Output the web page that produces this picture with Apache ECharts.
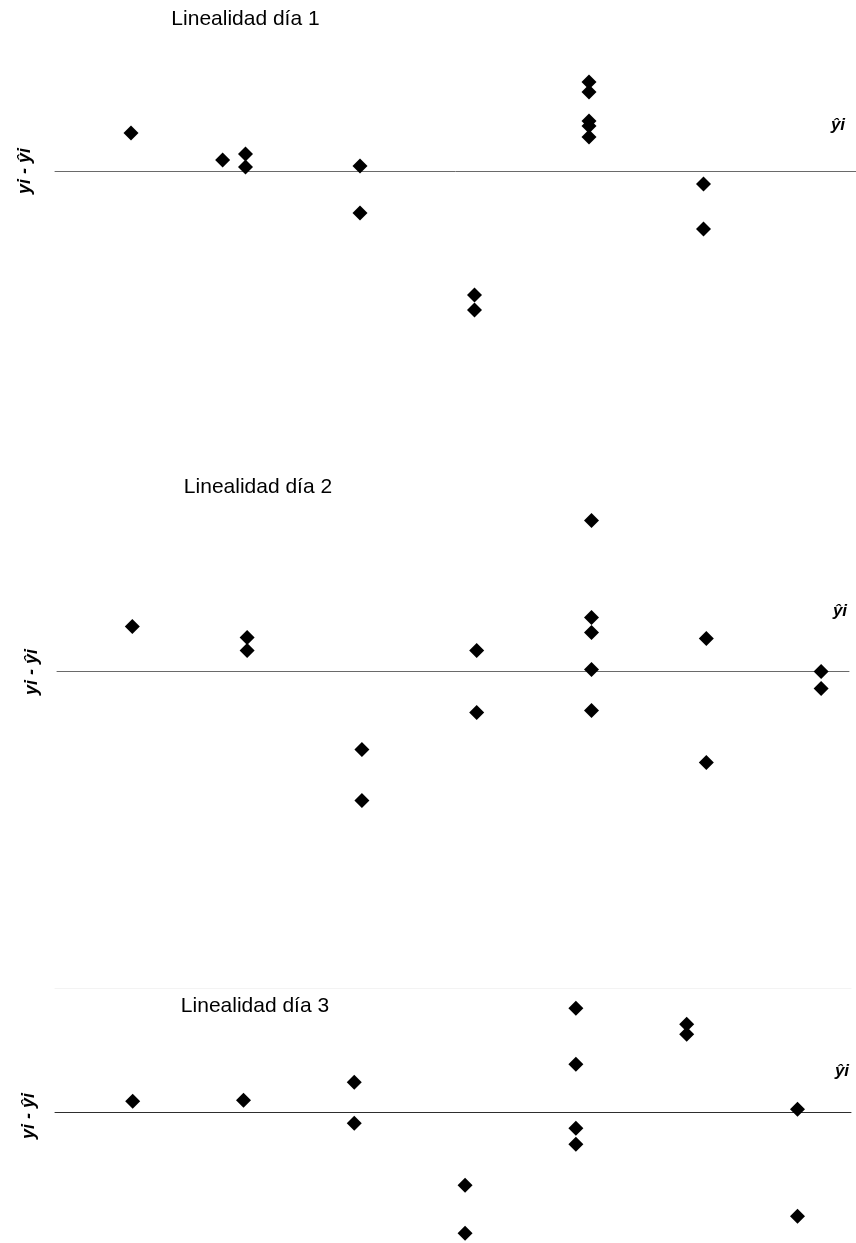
<!DOCTYPE html>
<html>
<head>
<meta charset="utf-8">
<script src="https://cdn.jsdelivr.net/npm/echarts@6/dist/echarts.min.js"></script>
<style>
html,body{margin:0;padding:0;background:#fff;}
#chart{width:856px;height:1243px;}
</style>
</head>
<body>
<div id="chart"></div>
<script>
// Data: x = concentration level, y = residual (yi - ŷi), arbitrary units
const titles = ['Linealidad día 1', 'Linealidad día 2', 'Linealidad día 3'];
const yLabel = 'yi - ŷi';
const xLabel = 'ŷi';

const levels1 = [1, 1.8, 2, 2, 3, 3, 4, 4, 5, 5, 5, 5, 5, 6, 6];
const resid1  = [3.8, 1.1, 1.7, 0.4, 0.5, -4.2, -12.4, -13.9, 8.9, 7.9, 5.0, 4.5, 3.4, -1.3, -5.8];

const levels2 = [1, 2, 2, 3, 3, 4, 4, 5, 5, 5, 5, 5, 6, 6, 7, 7];
const resid2  = [4.5, 3.4, 2.1, -7.8, -12.9, 2.1, -4.1, 15.1, 5.4, 3.9, 0.2, -3.9, 3.3, -9.1, 0.0, -1.7];

const levels3 = [1, 2, 3, 3, 4, 4, 5, 5, 5, 5, 6, 6, 7, 7];
const resid3  = [1.1, 1.2, 3.0, -1.1, -7.3, -12.1, 10.4, 4.8, -1.6, -3.2, 8.8, 7.8, 0.3, -10.4];

const chart = echarts.init(document.getElementById('chart'), null, {renderer: 'canvas'});

const panels = [
  {levels: levels1, resid: resid1, grid: {left: 55, right: 0, top: 40, height: 310},
   xMin: 0.336, xMax: 7.332, yMin: -17.9, yMax: 13.1, lineColor: '#6a6a6a',
   title: [245.5, 19], ylab: [25, 171], xlab: [838, 125]},
  {levels: levels2, resid: resid2, grid: {left: 57, right: 7, top: 500, height: 320},
   xMin: 0.344, xMax: 7.243, yMin: -14.85, yMax: 17.15, lineColor: '#6a6a6a',
   title: [258, 487], ylab: [32, 672], xlab: [840, 611]},
  {levels: levels3, resid: resid3, grid: {left: 55, right: 5, top: 988, height: 255},
   xMin: 0.299, xMax: 7.483, yMin: -13.07, yMax: 12.43, lineColor: '#2e2e2e',
   title: [255, 1006], ylab: [29, 1116], xlab: [842, 1071]}
];

const grids = [], xAxes = [], yAxes = [], series = [], graphics = [];
panels.forEach((p, i) => {
  grids.push(p.grid);
  xAxes.push({
    type: 'value', gridIndex: i, min: p.xMin, max: p.xMax,
    axisLine: {onZero: true, lineStyle: {color: p.lineColor, width: 1}},
    axisTick: {show: false}, axisLabel: {show: false}, splitLine: {show: false}
  });
  yAxes.push({
    type: 'value', gridIndex: i, min: p.yMin, max: p.yMax,
    axisLine: {show: false}, axisTick: {show: false}, axisLabel: {show: false}, splitLine: {show: false}
  });
  series.push({
    type: 'scatter', xAxisIndex: i, yAxisIndex: i,
    data: p.levels.map((x, k) => [x, p.resid[k]]),
    symbol: 'diamond', symbolSize: 15,
    itemStyle: {color: '#000', opacity: 1}, silent: true, animation: false
  });
  graphics.push({
    type: 'text', x: p.title[0], y: p.title[1],
    style: {text: titles[i], font: '21px "Liberation Sans", Arial, sans-serif', fill: '#000',
            textAlign: 'center', textVerticalAlign: 'middle'}
  });
  graphics.push({
    type: 'text', x: p.ylab[0], y: p.ylab[1], rotation: Math.PI / 2,
    style: {text: yLabel, font: 'italic bold 18px "Liberation Sans", Arial, sans-serif', fill: '#000',
            textAlign: 'center', textVerticalAlign: 'middle'}
  });
  graphics.push({
    type: 'text', x: p.xlab[0], y: p.xlab[1],
    style: {text: xLabel, font: 'italic bold 17px "Liberation Sans", Arial, sans-serif', fill: '#000',
            textAlign: 'center', textVerticalAlign: 'middle'}
  });
});

// faint top border of third plot area
xAxes.push({
  type: 'value', gridIndex: 2, position: 'top', min: 0, max: 1,
  axisLine: {onZero: false, lineStyle: {color: '#f3f3f3', width: 1}},
  axisTick: {show: false}, axisLabel: {show: false}, splitLine: {show: false}
});

chart.setOption({
  animation: false,
  backgroundColor: '#fff',
  grid: grids,
  xAxis: xAxes,
  yAxis: yAxes,
  series: series,
  graphic: graphics
});
</script>
</body>
</html>
